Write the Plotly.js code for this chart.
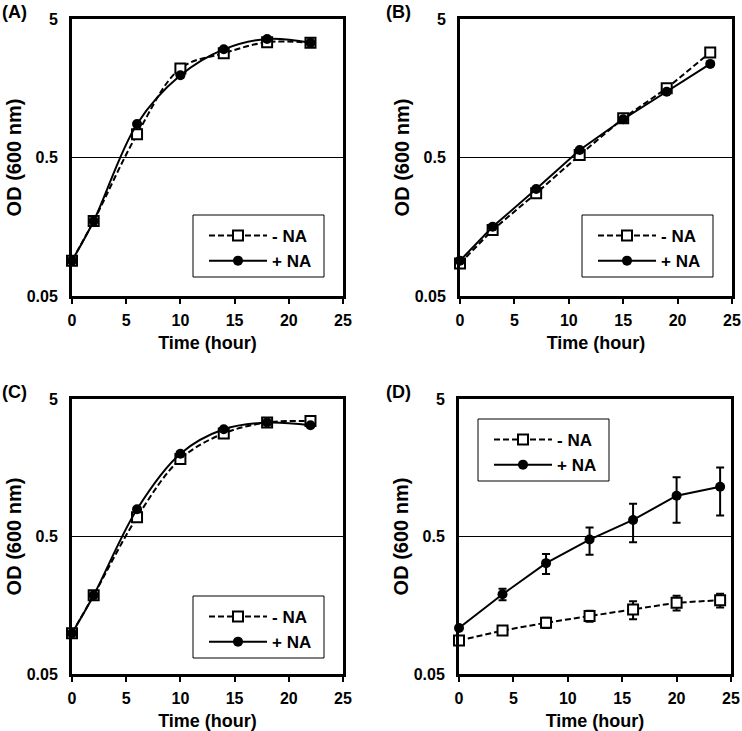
<!DOCTYPE html>
<html>
<head>
<meta charset="utf-8">
<script src="https://cdn.plot.ly/plotly-3.0.1.min.js"></script>
<style>
  html, body { margin: 0; padding: 0; background: #fff; }
  #chart { width: 742px; height: 731px; }
</style>
</head>
<body>
<div id="chart"></div>
<script>
// Values (OD 600 nm vs time in hours)
const timeA = [0, 2, 6, 10, 14, 18, 22];
const minusA = [0.09, 0.174, 0.735, 2.2, 2.83, 3.4, 3.37];
const plusA = [0.09, 0.174, 0.873, 1.96, 3.02, 3.59, 3.37];

const timeB = [0, 3, 7, 11, 15, 19, 23];
const minusB = [0.086, 0.15, 0.276, 0.521, 0.96, 1.58, 2.87];
const plusB = [0.09, 0.158, 0.296, 0.566, 0.944, 1.49, 2.37];

const timeC = [0, 2, 6, 10, 14, 18, 22];
const minusC = [0.099, 0.187, 0.69, 1.83, 2.81, 3.37, 3.46];
const plusC = [0.099, 0.187, 0.79, 2.0, 3.01, 3.37, 3.22];

const timeD = [0, 4, 8, 12, 16, 20, 24];
const minusD = [0.0875, 0.1035, 0.118, 0.132, 0.147, 0.165, 0.172];
const minusDErr = [0, 0.006, 0.01, 0.012, 0.022, 0.02, 0.02];
const plusD = [0.108, 0.19, 0.32, 0.475, 0.66, 0.99, 1.15];
const plusDErr = [0, 0.018, 0.053, 0.107, 0.205, 0.36, 0.44];

const panelLabels = ["(A)", "(B)", "(C)", "(D)"];
const seriesNames = ["- NA", "+ NA"];
const yTicks = [0.05, 0.5, 5];
const yTickText = ["0.05", "0.5", "5"];

const W = 742, H = 731;
const FONT = "Liberation Sans, Arial, sans-serif";

// plot boxes in pixels: [left, right, top, bottom]
const boxes = [
    [72, 343, 19, 296],
    [460, 732, 19, 296],
    [72, 343, 399, 674],
    [459, 731, 399, 674],
];
// legend frames in pixels: [left, top]; all are 131 x 62
const legendPos = [[193, 215], [582, 215], [193, 596], [478, 419]];
const LEG_W = 131, LEG_H = 62;

const panels = [
    { t: timeA, minus: minusA, plus: plusA, shape: "spline" },
    { t: timeB, minus: minusB, plus: plusB, shape: "linear" },
    { t: timeC, minus: minusC, plus: plusC, shape: "spline" },
    { t: timeD, minus: minusD, plus: plusD, minusErr: minusDErr, plusErr: plusDErr, shape: "linear" },
];

const traces = [];
const layout = {
    width: W,
    height: H,
    margin: { l: 0, r: 0, t: 0, b: 0, pad: 0 },
    paper_bgcolor: "#fff",
    plot_bgcolor: "#fff",
    font: { family: FONT, color: "#000", weight: "bold" },
    showlegend: true,
    annotations: [],
    shapes: [],
};

panels.forEach((p, i) => {
    const suffix = i === 0 ? "" : String(i + 1);
    const legendKey = i === 0 ? "legend" : "legend" + (i + 1);
    const [l, r, t, b] = boxes[i];

    const errBar = (arr) => arr ? {
        type: "data", array: arr, visible: true,
        color: "#000", thickness: 2, width: 4,
    } : undefined;

    traces.push({
        x: p.t, y: p.minus,
        xaxis: "x" + suffix, yaxis: "y" + suffix,
        name: seriesNames[0], legend: legendKey,
        type: "scatter", mode: "lines+markers", cliponaxis: false,
        line: { color: "#000", width: 2, dash: "6px,3px", shape: p.shape, smoothing: 1 },
        marker: { symbol: "square", size: 10, color: "#fff", line: { color: "#000", width: 2 } },
        error_y: errBar(p.minusErr),
    });
    traces.push({
        x: p.t, y: p.plus,
        xaxis: "x" + suffix, yaxis: "y" + suffix,
        name: seriesNames[1], legend: legendKey,
        type: "scatter", mode: "lines+markers", cliponaxis: false,
        line: { color: "#000", width: 2, shape: p.shape, smoothing: 1 },
        marker: { symbol: "circle", size: 10, color: "#000" },
        error_y: errBar(p.plusErr),
    });

    layout["xaxis" + suffix] = {
        domain: [l / W, r / W],
        anchor: "y" + suffix,
        range: [0, 25],
        tick0: 0, dtick: 5,
        ticks: "outside", ticklen: 5, tickwidth: 2, tickcolor: "#000",
        ticklabelstandoff: 3,
        showline: true, linewidth: 3, linecolor: "#000", mirror: true,
        showgrid: false, zeroline: false,
        tickfont: { family: FONT, size: 16, weight: "bold" },
        title: { text: "Time (hour)", font: { family: FONT, size: 18, weight: "bold" }, standoff: 9 },
    };
    layout["yaxis" + suffix] = {
        domain: [1 - b / H, 1 - t / H],
        anchor: "x" + suffix,
        type: "log",
        range: [Math.log10(0.05), Math.log10(5)],
        tickvals: yTicks, ticktext: yTickText,
        ticks: "", ticklabelstandoff: 8,
        showline: true, linewidth: 3, linecolor: "#000", mirror: true,
        showgrid: true, gridcolor: "#000", gridwidth: 1,
        zeroline: false,
        tickfont: { family: FONT, size: 16, weight: "bold" },
        title: { text: "OD (600 nm)", font: { family: FONT, size: 20, weight: "bold" }, standoff: 0 },
    };

    // legend frame drawn as a shape, the legend itself sits inside it
    const [lx, ly] = legendPos[i];
    layout.shapes.push({
        type: "rect", xref: "paper", yref: "paper", layer: "above",
        x0: lx / W, x1: (lx + LEG_W) / W,
        y0: 1 - (ly + LEG_H) / H, y1: 1 - ly / H,
        line: { color: "#000", width: 1 }, fillcolor: "#fff",
    });
    layout[legendKey] = {
        x: (lx + 11) / W, y: 1 - (ly + 3) / H,
        xanchor: "left", yanchor: "top",
        bgcolor: "rgba(0,0,0,0)", borderwidth: 0,
        font: { family: FONT, size: 17, weight: "bold", color: "#000" },
        itemwidth: 58,
    };

    layout.annotations.push({
        xref: "paper", yref: "paper",
        x: (i % 2 === 0 ? 0 : 384) / W,
        y: 1 - (i < 2 ? 12 : 392) / H,
        xanchor: "left", yanchor: "middle",
        text: panelLabels[i], showarrow: false,
        font: { family: FONT, size: 18, weight: "bold", color: "#000" },
    });
});

Plotly.newPlot("chart", traces, layout, { staticPlot: true, displayModeBar: false });
</script>
</body>
</html>
